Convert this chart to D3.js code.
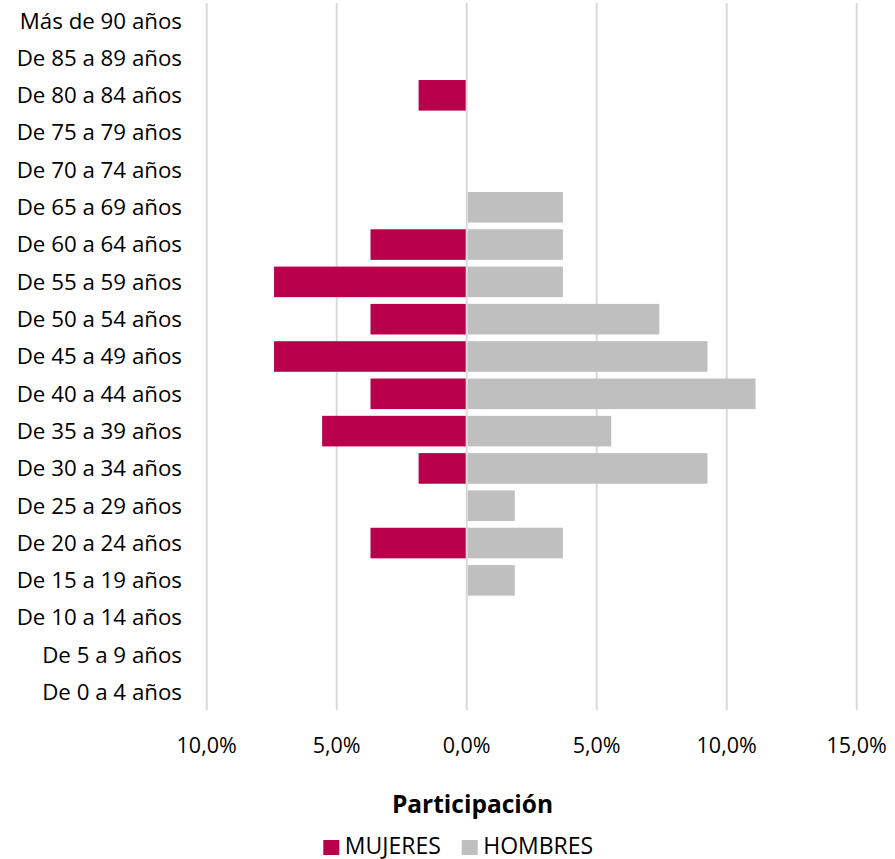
<!DOCTYPE html>
<html><head><meta charset="utf-8">
<script src="https://cdn.jsdelivr.net/npm/d3@7"></script>
<style>body{margin:0;background:#fff}svg{display:block}text{font-family:"Open Sans",sans-serif;fill:#000}</style>
</head><body><svg id="c" width="895" height="859"></svg>
<script>
const categories = ["Más de 90 años","De 85 a 89 años","De 80 a 84 años","De 75 a 79 años","De 70 a 74 años","De 65 a 69 años","De 60 a 64 años","De 55 a 59 años","De 50 a 54 años","De 45 a 49 años","De 40 a 44 años","De 35 a 39 años","De 30 a 34 años","De 25 a 29 años","De 20 a 24 años","De 15 a 19 años","De 10 a 14 años","De 5 a 9 años","De 0 a 4 años"];
const mujeres = [0,0,1.85,0,0,0,3.70,7.41,3.70,7.41,3.70,5.56,1.85,0,3.70,0,0,0,0];
const hombres = [0,0,0,0,0,3.70,3.70,3.70,7.41,9.26,11.11,5.56,9.26,1.85,3.70,1.85,0,0,0];
const tickValues = [-10,-5,0,5,10,15];
const tickLabels = ["10,0%","5,0%","0,0%","5,0%","10,0%","15,0%"];
const seriesNames = ["MUJERES","HOMBRES"];
const colors = ["#b8004b","#bfbfbf"];

const svg = d3.select("#c");
const x = d3.scaleLinear().domain([-10,15]).range([206.7,856.7]);
const y = d3.scaleBand().domain(categories).range([0,713]).paddingInner(0.18).paddingOuter(0.145);

// gridlines
svg.append("g").selectAll("line").data(tickValues).join("line")
  .attr("x1",d=>x(d)).attr("x2",d=>x(d)).attr("y1",3).attr("y2",710)
  .attr("stroke","#d9d9d9").attr("stroke-width",2);

// bars
svg.append("g").selectAll("rect").data(categories.map((c,i)=>({c,v:mujeres[i]})).filter(d=>d.v>0)).join("rect")
  .attr("x",d=>x(-d.v)).attr("width",d=>x(0)-1-x(-d.v))
  .attr("y",d=>y(d.c)).attr("height",y.bandwidth()).attr("fill",colors[0]);
svg.append("g").selectAll("rect").data(categories.map((c,i)=>({c,v:hombres[i]})).filter(d=>d.v>0)).join("rect")
  .attr("x",x(0)+1).attr("width",d=>x(d.v)-x(0)-1)
  .attr("y",d=>y(d.c)).attr("height",y.bandwidth()).attr("fill",colors[1]);

// y labels
svg.append("g").selectAll("text").data(categories).join("text")
  .attr("x",182).attr("y",d=>y(d)+y.bandwidth()/2).attr("dy","0.35em")
  .attr("text-anchor","end").attr("font-size",22.3).text(d=>d);

// x tick labels
svg.append("g").selectAll("text").data(tickValues).join("text")
  .attr("x",d=>x(d)).attr("y",753)
  .attr("text-anchor","middle").attr("font-size",21.5).text((d,i)=>tickLabels[i]);

// axis title
svg.append("text").attr("x",472.5).attr("y",812.5).attr("text-anchor","middle")
  .attr("font-size",24.5).attr("font-weight","bold").text("Participación");

// legend
const lg = svg.append("g");
const lx = [323.3,461.7];
seriesNames.forEach((n,i)=>{
  lg.append("rect").attr("x",lx[i]).attr("y",840).attr("width",16).attr("height",15).attr("fill",colors[i]);
  lg.append("text").attr("x",lx[i]+21.5).attr("y",853.5).attr("font-size",23).text(n);
});
</script></body></html>
